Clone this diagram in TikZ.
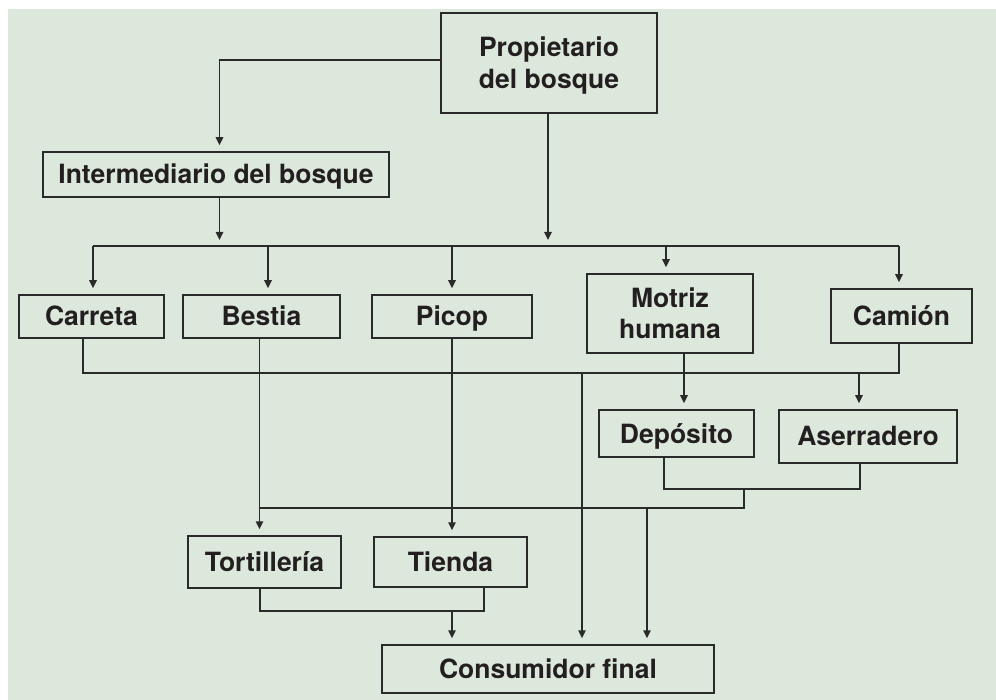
\documentclass[tikz,border=0pt]{standalone}
\usepackage{fontspec}
\setmainfont{TeX Gyre Heros}
\usetikzlibrary{arrows.meta}
\definecolor{bgc}{RGB}{221,232,220}
\definecolor{linec}{RGB}{42,42,42}
\definecolor{txtc}{RGB}{35,31,32}
\begin{document}
\begin{tikzpicture}[x=1pt,y=-1pt,
  box/.style={draw=linec, line width=1.5pt, fill=bgc, rectangle, inner sep=0pt,
    font=\fontsize{26.5}{31.5}\selectfont\bfseries, text=txtc, align=center,
    text height=19pt, text depth=0pt},
  twoline/.style={text height=50.5pt, text depth=0pt},
  conn/.style={draw=linec, line width=1.5pt},
  arr/.style={conn, -{Triangle[length=8pt,width=7.5pt]}, shorten >=6pt}]
\useasboundingbox (0,0) rectangle (996,700);
\fill[white] (0,0) rectangle (996,700);
\fill[bgc] (8,9) rectangle (996,700);

% boxes
\node[box, twoline, minimum width=216pt, minimum height=100pt] (prop) at (549,63) {Propietario\\del bosque};
\node[box, minimum width=346pt, minimum height=45pt] (inter) at (216,174.5) {Intermediario del bosque};
\node[box, minimum width=145pt, minimum height=43pt] (carreta) at (91.5,316.5) {Carreta};
\node[box, minimum width=157pt, minimum height=43pt] (bestia) at (261.5,316.5) {Bestia};
\node[box, minimum width=160pt, minimum height=43pt] (picop) at (452,316.5) {Picop};
\node[box, twoline, minimum width=166pt, minimum height=79pt] (motriz) at (670,313.5) {Motriz\\humana};
\node[box, minimum width=141pt, minimum height=54pt] (camion) at (901.5,316) {Camión};
\node[box, minimum width=155pt, minimum height=47pt] (deposito) at (676.5,433.5) {Depósito};
\node[box, minimum width=178pt, minimum height=53pt] (aserr) at (868,436.5) {Aserradero};
\node[box, minimum width=153pt, minimum height=52pt] (tort) at (264.5,562) {Tortillería};
\node[box, minimum width=153pt, minimum height=50pt] (tienda) at (450.5,562) {Tienda};
\node[box, minimum width=332pt, minimum height=48pt] (consum) at (548,669) {Consumidor final};

% bus coordinates
\coordinate (b1L) at (93,246);
\coordinate (b1R) at (899,246);
\coordinate (b2) at (0,373);
\coordinate (j1m) at (744,488);
\coordinate (b3R) at (744,508);
\coordinate (b3L) at (259.5,508);
\coordinate (j2) at (452,610);

% top
\draw[arr] ([yshift=3pt]prop.west) -| ([xshift=3.5pt]inter.north);
\draw[arr] ([xshift=3.5pt]inter.south) -- ([xshift=3.5pt]inter.south |- b1L);
\draw[arr] ([xshift=-1pt]prop.south) -- ([xshift=-1pt]prop.south |- b1L);
\draw[conn] (b1L) -- (b1R);
\draw[arr] (b1L) -- (b1L |- carreta.north);
\draw[arr] ([xshift=6.5pt]bestia.north |- b1L) -- ([xshift=6.5pt]bestia.north);
\draw[arr] (picop.north |- b1L) -- (picop.north);
\draw[arr] ([xshift=-4pt]motriz.north |- b1L) -- ([xshift=-4pt]motriz.north);
\draw[arr] (b1R) -- (b1R |- camion.north);

% second bus
\draw[conn] ([xshift=-8.5pt]carreta.south) |- ([xshift=-2.5pt]camion.south |- b2) -- ([xshift=-2.5pt]camion.south);
\draw[arr] ([xshift=-9pt]aserr.north |- b2) -- ([xshift=-9pt]aserr.north);
\draw[arr] ([xshift=34pt]consum.north |- b2) -- ([xshift=34pt]consum.north);
\draw[arr] ([xshift=14pt]motriz.south) -- ([xshift=14pt]motriz.south |- deposito.north);

% verticals through
\draw[arr] ([xshift=-2pt]bestia.south) -- ([xshift=-2pt]bestia.south |- tort.north);
\draw[arr] (picop.south) -- (picop.south |- tienda.north);

% deposito / aserradero
\draw[conn] ([xshift=-12.5pt]deposito.south) -- ++(0,31) -| ([xshift=-8pt]aserr.south);
\draw[conn] (j1m) -- (b3R) -- (b3L);
\draw[arr] ([xshift=99pt]consum.north |- b3R) -- ([xshift=99pt]consum.north);

% tortilleria / tienda
\draw[conn] ([xshift=-4.5pt]tort.south) -- ++(0,22) -| ([xshift=33.5pt]tienda.south);
\draw[arr] (j2) -- (j2 |- consum.north);
\end{tikzpicture}
\end{document}
